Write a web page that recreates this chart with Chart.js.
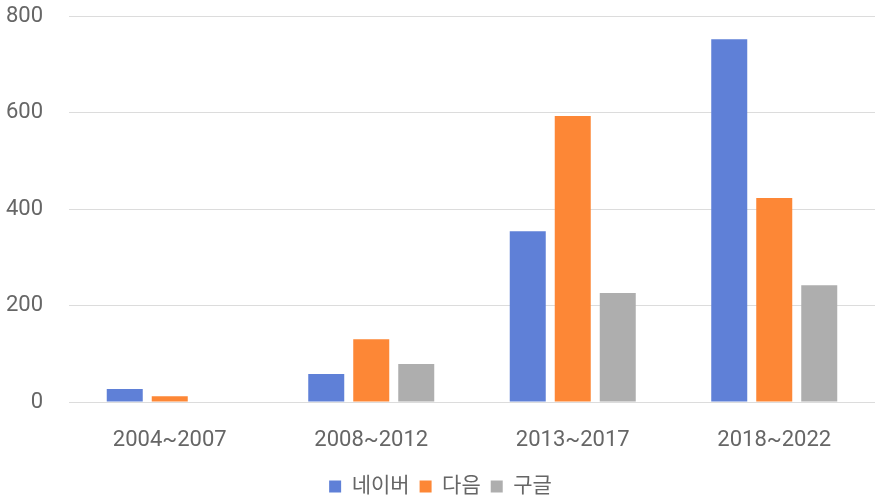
<!DOCTYPE html>
<html>
<head>
<meta charset="utf-8">
<script src="https://cdn.jsdelivr.net/npm/chart.js@4"></script>
<style>
  html, body { margin: 0; padding: 0; background: #fff; }
  #wrap { width: 876px; height: 498px; }
</style>
</head>
<body>
<div id="wrap"><canvas id="barChart"></canvas></div>
<script>
// chart data
const periods = ["2004~2007", "2008~2012", "2013~2017", "2018~2022"];
const naver = [27, 58, 354, 752];
const daum = [12, 130, 593, 423];
const google = [0, 79, 226, 242];
const yTicks = [0, 200, 400, 600, 800];

const FONT = "Roboto, 'Noto Sans CJK KR', sans-serif";

const ctx = document.getElementById("barChart").getContext("2d");
const barChart = new Chart(ctx, {
  type: "bar",
  data: {
    labels: periods,
    datasets: [
      { label: "네이버", data: naver, backgroundColor: "#5f80d7" },
      { label: "다음", data: daum, backgroundColor: "#fd8736" },
      { label: "구글", data: google, backgroundColor: "#aeaeae" },
    ],
  },
  options: {
    responsive: true,
    maintainAspectRatio: false,
    animation: false,
    categoryPercentage: 0.67,
    barPercentage: 0.8,
    // negative bottom pushes the legend down to where the original has it
    layout: { padding: { left: 6, right: 1, top: 16, bottom: -9 } },
    plugins: {
      tooltip: { enabled: false },
      legend: {
        position: "bottom",
        labels: {
          boxWidth: 12,
          boxHeight: 12,
          padding: 10,
          color: "#666",
          font: { family: FONT, size: 21 },
        },
      },
    },
    scales: {
      x: {
        grid: { display: false, drawTicks: false },
        border: { display: false },
        ticks: {
          padding: 25,
          color: "#666",
          font: { family: FONT, size: 22 },
        },
        afterFit: (axis) => {
          axis.height = 64;
        },
      },
      y: {
        min: 0,
        max: yTicks[yTicks.length - 1],
        afterBuildTicks: (axis) => {
          axis.ticks = yTicks.map((v) => ({ value: v }));
        },
        afterFit: (axis) => {
          axis.width = 63;
          axis.paddingTop = 0;
        },
        grid: { color: "#dcdcdc", lineWidth: 1, drawTicks: false },
        border: { display: false },
        ticks: {
          padding: 26,
          color: "#666",
          font: { family: FONT, size: 22 },
        },
      },
    },
  },
});
</script>
</body>
</html>
